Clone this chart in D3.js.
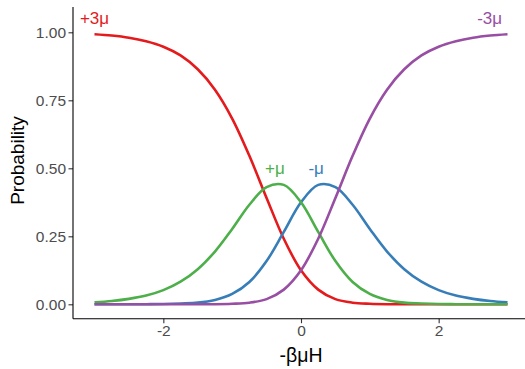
<!DOCTYPE html>
<html>
<head>
<meta charset="utf-8">
<script src="https://cdn.jsdelivr.net/npm/d3@7"></script>
<style>
  body { margin: 0; background: #fff; }
  text { font-family: "Liberation Sans", Arial, sans-serif; }
</style>
</head>
<body>
<div id="chart"></div>
<script>
// values, x = -βμH
var xs = [-3, -2.75, -2.5, -2.25, -2, -1.75, -1.5, -1.25, -1, -0.75, -0.5, -0.25,
          0, 0.25, 0.5, 0.75, 1, 1.25, 1.5, 1.75, 2, 2.25, 2.5, 2.75, 3];

var plus3 = [0.993, 0.988, 0.980, 0.967, 0.947, 0.915, 0.864, 0.789, 0.683, 0.546, 0.391, 0.241,
             0.125, 0.054, 0.019, 0.006, 0.002, 0.0004, 0.0001, 0, 0, 0, 0, 0, 0];
var plus1 = [0.007, 0.012, 0.020, 0.032, 0.052, 0.083, 0.129, 0.194, 0.277, 0.366, 0.431, 0.439,
             0.375, 0.266, 0.159, 0.082, 0.038, 0.016, 0.006, 0.003, 0.001, 0.0004, 0.0001, 0, 0];
var minus1 = [0, 0, 0.0001, 0.0004, 0.001, 0.003, 0.006, 0.016, 0.038, 0.082, 0.159, 0.266,
              0.375, 0.439, 0.431, 0.366, 0.277, 0.194, 0.129, 0.083, 0.052, 0.032, 0.020, 0.012, 0.007];
var minus3 = [0, 0, 0, 0, 0, 0, 0.0001, 0.0004, 0.002, 0.006, 0.019, 0.054,
              0.125, 0.241, 0.391, 0.546, 0.683, 0.789, 0.864, 0.915, 0.947, 0.967, 0.980, 0.988, 0.993];

var labels = ["+3μ", "-μ", "+μ", "-3μ"];
var labelX = [-3, 0.22, -0.38, 2.74];
var labelY = [1.053, 0.5, 0.5, 1.053];
var colors = ["#E41A1C", "#377EB8", "#4DAF4A", "#984EA3"];
var xTicks = [-2, 0, 2];
var yTicks = [0, 0.25, 0.5, 0.75, 1];

var W = 525, H = 369;
var panelL = 73, panelR = 525, panelT = 7, panelB = 318.7;

var svg = d3.select("#chart").append("svg")
    .attr("width", W)
    .attr("height", H);

var x = d3.scaleLinear().domain([-3, 3]).range([94.5, 507.5]);
var y = d3.scaleLinear().domain([0, 1]).range([304.3, 32.3]);

// curves, drawn in the same stacking order as the reference
var series = [plus3, minus1, plus1, minus3];
var line = d3.line()
    .x(function(d, i) { return x(xs[i]); })
    .y(function(d) { return y(d); })
    .curve(d3.curveCatmullRom);

series.forEach(function(s, k) {
  svg.append("path")
    .datum(s)
    .attr("fill", "none")
    .attr("stroke", colors[k])
    .attr("stroke-width", 2.6)
    .attr("d", line);
});

// curve labels
labels.forEach(function(t, k) {
  svg.append("text")
    .attr("x", x(labelX[k]))
    .attr("y", y(labelY[k]))
    .attr("dy", "0.35em")
    .attr("text-anchor", "middle")
    .attr("fill", colors[k])
    .style("font-size", "17px")
    .text(t);
});

// x axis
var gx = svg.append("g")
    .attr("transform", "translate(0," + panelB + ")")
    .call(d3.axisBottom(x).tickValues(xTicks).tickFormat(function(d) { return String(d); })
      .tickSize(4.5).tickPadding(2));
gx.select(".domain").remove();
gx.append("line")
    .attr("x1", panelL).attr("x2", panelR)
    .attr("stroke", "#000").attr("stroke-width", 1.1);

// y axis
var gy = svg.append("g")
    .attr("transform", "translate(" + panelL + ",0)")
    .call(d3.axisLeft(y).tickValues(yTicks).tickFormat(d3.format(".2f"))
      .tickSize(4.5).tickPadding(2.5));
gy.select(".domain").remove();
gy.append("line")
    .attr("y1", panelT).attr("y2", panelB)
    .attr("stroke", "#000").attr("stroke-width", 1.1);

svg.selectAll(".tick line").attr("stroke", "#333").attr("stroke-width", 1.1);
svg.selectAll(".tick text")
    .attr("fill", "#4D4D4D")
    .style("font-size", "15.5px")
    .style("font-family", "'Liberation Sans', Arial, sans-serif");

// axis titles
svg.append("text")
    .attr("x", (panelL + panelR) / 2 + 2)
    .attr("y", 361.5)
    .attr("text-anchor", "middle")
    .attr("fill", "#000")
    .style("font-size", "19.5px")
    .text("-βμH");

svg.append("text")
    .attr("transform", "translate(24,160.5) rotate(-90)")
    .attr("text-anchor", "middle")
    .attr("fill", "#000")
    .style("font-size", "19px")
    .text("Probability");
</script>
</body>
</html>
